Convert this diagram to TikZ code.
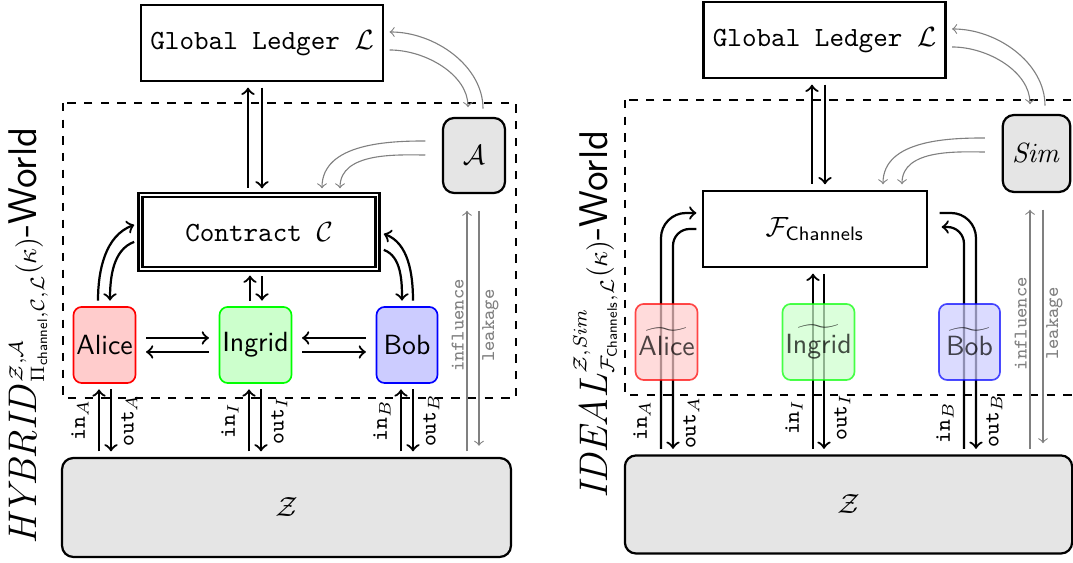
\documentclass[tikz,border=0pt]{standalone}
\usepackage{amsmath}
\usetikzlibrary{calc}

\tikzset{
	box/.style={draw, thick, font=\ttfamily, minimum height=27.4pt},
	agent/.style={draw, thick, rounded corners=4pt, fill=gray!20},
	party/.style={draw, semithick, rounded corners=3pt, font=\sffamily, minimum width=22pt, minimum height=27.4pt, inner xsep=1pt},
	link/.style={thick, shorten >=2pt, shorten <=2pt},
	leak/.style={gray, shorten >=2pt, shorten <=2pt},
	lbl/.style={font=\footnotesize, rotate=90},
	glbl/.style={font=\scriptsize\ttfamily, text=gray, rotate=90, inner sep=1pt},
	world/.style={font=\sffamily, rotate=90, anchor=base east, inner sep=0pt},
}

\begin{document}
\begin{tikzpicture}[x=0.36pt, y=0.36pt]
	\useasboundingbox (0,0) rectangle (1073,563);
	
	%hybrid world
	\node[box, minimum width=87pt] (ledger) at (262,520) {Global Ledger $\mathcal{L}$};
	\node[box, double, minimum width=85.3pt, minimum height=26.6pt] (contract) at (259,331) {Contract $\mathcal{C}$};
	\node[agent, minimum width=22.3pt, minimum height=27pt] (adv) at (474,407.5) {$\mathcal{A}$};
	\node[party, draw=red, fill=red!20] (alice) at (104.5,218) {Alice};
	\node[party, draw=green, fill=green!20] (ingrid) at (255.5,218) {Ingrid};
	\node[party, draw=blue, fill=blue!20] (bob) at (407,218) {Bob};
	\node[agent, minimum width=161.6pt, minimum height=35.6pt] (env) at (286.5,55.5) {$\mathcal{Z}$};
	\draw[dashed] (63,460) rectangle (516,165);
	\node[world] (hybrid) at (36,436) {{\fontsize{15}{18}\selectfont$\mathit{HYBRID}$}$^{\mathcal{Z},\mathcal{A}}_{\Pi_{\textsf{channel}},\mathcal{C},\mathcal{L}}(\kappa)${\Large-World}};
	
	\draw[link,<-] (ledger.south -| 248,0) -- (contract.north -| 248,0);
	\draw[link,->] (ledger.south -| 262,0) -- (contract.north -| 262,0);
	\draw[link,->] (ingrid.north -| 250,0) -- (contract.south -| 250,0);
	\draw[link,<-] (ingrid.north -| 262,0) -- (contract.south -| 262,0);
	\draw[link,->] (alice.north -| 98,0) to[out=90,in=200] (contract.west |- 0,340);
	\draw[link,->] (contract.west |- 0,323) to[out=200,in=90] (alice.north -| 110,0);
	\draw[link,->] (contract.east |- 0,315) to[out=-20,in=90] (bob.north -| 402,0);
	\draw[link,->] (bob.north -| 413,0) to[out=90,in=-20] (contract.east |- 0,331);
	
	%channels between parties
	\draw[link,->,shorten >=3.5pt,shorten <=3.5pt] (alice.east |- 0,225) -- (ingrid.west |- 0,225);
	\draw[link,<-,shorten >=3.5pt,shorten <=3.5pt] (alice.east |- 0,211) -- (ingrid.west |- 0,211);
	\draw[link,<-,shorten >=3.5pt,shorten <=3.5pt] (ingrid.east |- 0,225) -- (bob.west |- 0,225);
	\draw[link,->,shorten >=3.5pt,shorten <=3.5pt] (ingrid.east |- 0,211) -- (bob.west |- 0,211);
	
	\foreach \p/\x/\s in {alice/99/A, ingrid/249/I, bob/401/B}{
		\draw[link,->] (env.north -| \x,0) -- node[lbl, anchor=south]{\texttt{in}$_\s$} (\p.south -| \x,0);
		\draw[link,<-] (env.north -| \x+12,0) -- node[lbl, anchor=north]{\texttt{out}$_\s$} (\p.south -| \x+12,0);
	}
	
	%adversary
	\draw[leak,->,shorten <=3pt] (adv.north -| 483,0) to[out=90,in=0] (ledger.east |- 0,531);
	\draw[leak,->,shorten >=3.5pt] (ledger.east |- 0,513) to[out=0,in=90] (adv.north -| 468,0);
	\draw[leak,->,shorten <=6pt] (adv.west |- 0,422) to[out=180,in=90] (contract.north -| 322,0);
	\draw[leak,->,shorten <=6pt] (adv.west |- 0,408) to[out=180,in=90] (contract.north -| 340,0);
	\draw[leak,->,shorten >=6pt] (env.north -| 467,0) -- node[glbl, anchor=south]{influence} (adv.south -| 467,0);
	\draw[leak,->,shorten <=6pt,shorten >=4pt] (adv.south -| 479,0) -- node[glbl, anchor=north]{leakage} (env.north -| 479,0);
	
	%ideal world
	\node[world] (ideal) at (607,433) {$\mbox{\Large$\mathit{IDEAL}$}^{\mathcal{Z},\mathit{Sim}}_{\mathcal{F}_{\textsf{Channels}},\mathcal{L}}(\kappa)${\Large-World}};
	\begin{scope}[shift={(562,3)}]
		\node[box, minimum width=87pt] (ledgerR) at (262.5,520) {Global Ledger $\mathcal{L}$};
		\node[box, minimum width=80.6pt] (func) at (253,331) {$\mathcal{F}_{\textsf{Channels}}$};
		\node[agent, minimum width=22pt, minimum height=27.7pt] (sim) at (474.5,406.5) {$\mathit{Sim}$};
		\node[agent, minimum width=161pt, minimum height=35.3pt] (envR) at (286.5,55.5) {$\mathcal{Z}$};
		\draw[dashed] (63,460) rectangle (516,165);
		
		\draw[link,<-] (ledgerR.south -| 250,0) -- (func.north -| 250,0);
		\draw[link,->] (ledgerR.south -| 263,0) -- (func.north -| 263,0);
		
		\draw[leak,->,shorten <=3pt] (sim.north -| 483,0) to[out=90,in=0] (ledgerR.east |- 0,531);
		\draw[leak,->,shorten >=3.5pt] (ledgerR.east |- 0,513) to[out=0,in=90] (sim.north -| 468,0);
		\draw[leak,->,shorten <=6pt] (sim.west |- 0,422) to[out=180,in=90] (func.north -| 321,0);
		\draw[leak,->,shorten <=6pt] (sim.west |- 0,408) to[out=180,in=90] (func.north -| 340,0);
		\draw[leak,->,shorten >=6pt] (envR.north -| 468,0) -- node[glbl, anchor=south]{influence} (sim.south -| 468,0);
		\draw[leak,->,shorten <=6pt,shorten >=4pt] (sim.south -| 481,0) -- node[glbl, anchor=north]{leakage} (envR.north -| 481,0);
		
		%dummy parties forward to the functionality
		\draw[link,->,rounded corners=9pt] (envR.north -| 99,0) |- node[lbl, pos=0.07, anchor=south]{\texttt{in}$_A$} ($(func.west)+(0,16)$);
		\draw[link,<-,rounded corners=6pt] (envR.north -| 111,0) |- node[lbl, pos=0.07, anchor=north]{\texttt{out}$_A$} (func.west);
		\draw[link,->] (envR.north -| 251,0) -- node[lbl, pos=0.2, anchor=south]{\texttt{in}$_I$} (func.south -| 251,0);
		\draw[link,<-] (envR.north -| 262,0) -- node[lbl, pos=0.2, anchor=north]{\texttt{out}$_I$} (func.south -| 262,0);
		\draw[link,->,rounded corners=6pt] (envR.north -| 402,0) |- node[lbl, pos=0.07, anchor=south]{\texttt{in}$_B$} ($(func.east)+(8,2)$);
		\draw[link,<-,rounded corners=9pt] (envR.north -| 414,0) |- node[lbl, pos=0.07, anchor=north]{\texttt{out}$_B$} ($(func.east)+(6,16)$);
		
		\node[party, draw=red, fill=red!20, opacity=0.7] (aliceR) at (104.5,218) {$\widetilde{\textsf{Alice}}$};
		\node[party, draw=green, fill=green!20, opacity=0.7] (ingridR) at (256.5,218) {$\widetilde{\textsf{Ingrid}}$};
		\node[party, draw=blue, fill=blue!20, opacity=0.7] (bobR) at (407.5,218) {$\widetilde{\textsf{Bob}}$};
	\end{scope}
\end{tikzpicture}
\end{document}
